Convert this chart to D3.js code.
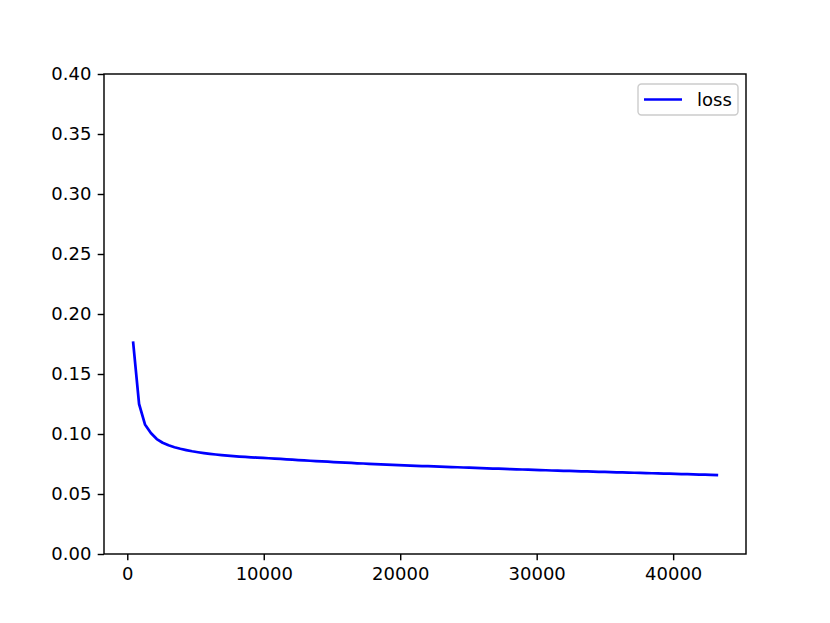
<!DOCTYPE html>
<html>
<head>
<meta charset="utf-8">
<script src="https://cdn.jsdelivr.net/npm/d3@7"></script>
<style>
  body { margin: 0; background: #fff; }
  svg text { font-family: "DejaVu Sans", sans-serif; }
</style>
</head>
<body>
<div id="chart"></div>
<script>
// iterations logged (x) and loss at each one (y)
const iterations = [
  432, 864, 1296, 1728, 2160, 2592, 3024, 3456, 3888, 4320,
  4752, 5184, 5616, 6048, 6480, 6912, 7344, 7776, 8208, 8640,
  9072, 9504, 9936, 10368, 10800, 11232, 11664, 12096, 12528, 12960,
  13392, 13824, 14256, 14688, 15120, 15552, 15984, 16416, 16848, 17280,
  17712, 18144, 18576, 19008, 19440, 19872, 20304, 20736, 21168, 21600,
  22032, 22464, 22896, 23328, 23760, 24192, 24624, 25056, 25488, 25920,
  26352, 26784, 27216, 27648, 28080, 28512, 28944, 29376, 29808, 30240,
  30672, 31104, 31536, 31968, 32400, 32832, 33264, 33696, 34128, 34560,
  34992, 35424, 35856, 36288, 36720, 37152, 37584, 38016, 38448, 38880,
  39312, 39744, 40176, 40608, 41040, 41472, 41904, 42336, 42768, 43200
];
const loss = [
  0.1761, 0.1250, 0.1080, 0.1008, 0.0958, 0.0927, 0.0906, 0.0890, 0.0877, 0.0866,
  0.0856, 0.0848, 0.0841, 0.0835, 0.0829, 0.0824, 0.0820, 0.0816, 0.0812, 0.0809,
  0.0806, 0.0803, 0.0801, 0.0798, 0.0795, 0.0792, 0.0789, 0.0786, 0.0783, 0.0780,
  0.0777, 0.0774, 0.0772, 0.0769, 0.0766, 0.0764, 0.0761, 0.0759, 0.0756, 0.0754,
  0.0751, 0.0749, 0.0747, 0.0745, 0.0743, 0.0741, 0.0739, 0.0737, 0.0735, 0.0733,
  0.0732, 0.0730, 0.0728, 0.0726, 0.0724, 0.0723, 0.0721, 0.0719, 0.0717, 0.0716,
  0.0714, 0.0712, 0.0711, 0.0709, 0.0707, 0.0706, 0.0704, 0.0703, 0.0701, 0.0699,
  0.0698, 0.0696, 0.0695, 0.0693, 0.0692, 0.0691, 0.0689, 0.0688, 0.0686, 0.0685,
  0.0684, 0.0682, 0.0681, 0.0680, 0.0678, 0.0677, 0.0676, 0.0674, 0.0673, 0.0672,
  0.0670, 0.0669, 0.0668, 0.0666, 0.0665, 0.0664, 0.0662, 0.0661, 0.0660, 0.0658
];
const xTicks = [0, 10000, 20000, 30000, 40000];
const yTicks = [0, 0.05, 0.10, 0.15, 0.20, 0.25, 0.30, 0.35, 0.40];
const seriesName = "loss";

const width = 830, height = 623;
const plotLeft = 104, plotRight = 746, plotTop = 74, plotBottom = 554;
const pt = 129.7 / 72; // points -> pixels

// matplotlib-like 5% margins on x
const xMin = d3.min(iterations), xMax = d3.max(iterations);
const pad = (xMax - xMin) * 0.05;

const x = d3.scaleLinear().domain([xMin - pad, xMax + pad]).range([plotLeft, plotRight]);
const y = d3.scaleLinear().domain([0, 0.4]).range([plotBottom, plotTop]);

const svg = d3.select("#chart").append("svg")
  .attr("width", width)
  .attr("height", height);

svg.append("rect").attr("width", width).attr("height", height).attr("fill", "#fff");

// axes
const xAxis = svg.append("g")
  .attr("transform", `translate(0,${plotBottom})`)
  .call(d3.axisBottom(x).tickValues(xTicks).tickFormat(d3.format("d"))
    .tickSizeInner(3.5 * pt).tickSizeOuter(0).tickPadding(3.5 * pt));

const yAxis = svg.append("g")
  .attr("transform", `translate(${plotLeft},0)`)
  .call(d3.axisLeft(y).tickValues(yTicks).tickFormat(d3.format(".2f"))
    .tickSizeInner(3.5 * pt).tickSizeOuter(0).tickPadding(3.5 * pt));

[xAxis, yAxis].forEach(g => {
  g.select(".domain").remove();
  g.selectAll(".tick line").attr("stroke", "#000").attr("stroke-width", 0.8 * pt);
  g.selectAll(".tick text").attr("fill", "#000").style("font-size", "18px");
});
xAxis.selectAll(".tick text").attr("dy", "0.76em");

// loss line
const line = d3.line()
  .x((d, i) => x(iterations[i]))
  .y(d => y(d));

svg.append("path")
  .datum(loss)
  .attr("fill", "none")
  .attr("stroke", "#0000ff")
  .attr("stroke-width", 1.5 * pt)
  .attr("stroke-linejoin", "round")
  .attr("stroke-linecap", "square")
  .attr("d", line);

// frame
svg.append("rect")
  .attr("x", plotLeft).attr("y", plotTop)
  .attr("width", plotRight - plotLeft).attr("height", plotBottom - plotTop)
  .attr("fill", "none")
  .attr("stroke", "#000")
  .attr("stroke-width", 0.8 * pt);

// legend
const legend = svg.append("g").attr("transform", "translate(638,84)");
legend.append("rect")
  .attr("width", 100).attr("height", 31)
  .attr("rx", 3.5).attr("ry", 3.5)
  .attr("fill", "#fff").attr("fill-opacity", 0.8)
  .attr("stroke", "#cccccc").attr("stroke-width", 1.4);
legend.append("line")
  .attr("x1", 6).attr("x2", 44).attr("y1", 15.5).attr("y2", 15.5)
  .attr("stroke", "#0000ff").attr("stroke-width", 1.5 * pt);
legend.append("text")
  .attr("x", 59).attr("y", 21.5)
  .style("font-size", "18px")
  .text(seriesName);
</script>
</body>
</html>
